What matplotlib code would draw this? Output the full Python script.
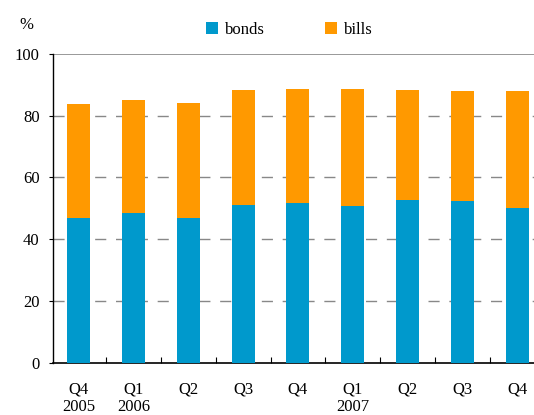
import matplotlib.pyplot as plt
import numpy as np

plt.rcParams['font.family'] = 'Liberation Serif'

quarters = ['Q4', 'Q1', 'Q2', 'Q3', 'Q4', 'Q1', 'Q2', 'Q3', 'Q4']
years = ['2005', '2006', '', '', '', '2007', '', '', '']
bonds = [47.0, 48.4, 47.0, 51.2, 51.8, 50.9, 52.8, 52.5, 50.2]
totals = [83.7, 85.0, 84.0, 88.2, 88.5, 88.8, 88.2, 87.9, 87.9]
bills = [t - b for t, b in zip(totals, bonds)]

blue = '#0099cc'
orange = '#ff9900'
fs = 12

fig = plt.figure(figsize=(5.34, 4.15), dpi=100)
ax = fig.add_axes([0.0989, 0.126, 0.9011, 0.744])

x = np.arange(len(quarters))
ax.bar(x, bonds, width=0.42, color=blue, label='bonds', zorder=3)
ax.bar(x, bills, width=0.42, bottom=bonds, color=orange, label='bills', zorder=3)

ax.set_xlim(-0.474, 8.31)
ax.set_ylim(0, 100)
ax.set_yticks([0, 20, 40, 60, 80, 100])
for v in [20, 40, 60, 80]:
    ax.axhline(v, color='#888888', lw=1.0, ls=(0, (8, 7)), zorder=1)
ax.axhline(100, color='#888888', lw=1.2, zorder=1)

for s in ['top', 'right']:
    ax.spines[s].set_visible(False)
ax.spines['left'].set_color('black')
ax.spines['bottom'].set_color('black')
ax.spines['left'].set_linewidth(1.0)
ax.spines['bottom'].set_linewidth(1.2)

ax.tick_params(axis='y', direction='out', length=3, labelsize=fs, pad=6.5)
ax.set_xticks(np.arange(0.5, 8.5, 1))
ax.set_xticklabels([])
ax.tick_params(axis='x', direction='in', length=4)

for i in range(len(quarters)):
    ax.text(x[i], -8.75, quarters[i], ha='center', va='center', fontsize=fs)
    if years[i]:
        ax.text(x[i], -14.35, years[i], ha='center', va='center', fontsize=fs)

fig.text(26.6 / 534, 1 - 25 / 415, '%', ha='center', va='center', fontsize=fs)
fig.legend(loc='center', bbox_to_anchor=(0.542, 1 - 29.5 / 415), ncol=2, frameon=False,
           fontsize=fs, handlelength=0.75, handleheight=0.75, handletextpad=0.4,
           columnspacing=3.6)

fig.savefig('out.png', dpi=100)
